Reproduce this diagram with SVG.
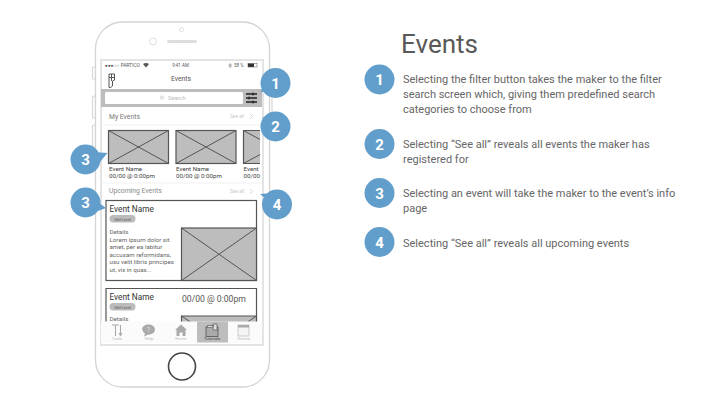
<svg xmlns="http://www.w3.org/2000/svg" width="720" height="405" viewBox="0 0 720 405">
<style>
text{font-family:Roboto,"Liberation Sans",sans-serif}
.b{fill:#629ecb}
.n{fill:#fff;font-weight:700;text-anchor:middle}
.d{fill:#666;font-size:11px}
.ph{fill:#bdbdbd;stroke:#555;stroke-width:1.2}
.x{stroke:#555;stroke-width:1;fill:none}
.e{fill:#444;font-size:6.2px}
.g{fill:#aaa}
.t{fill:#bbb;font-size:4.2px;text-anchor:middle}
.o{fill:none;stroke:#d8d8d8;stroke-width:1.2}
.c{fill:#fff;stroke:#555;stroke-width:1.2}
</style>
<rect width="720" height="405" fill="#fff"/>
<g id="phone">
<rect class="o" x="92.500" y="67" width="3" height="12" rx="1"/>
<rect class="o" x="92.500" y="96" width="3" height="22" rx="1"/>
<rect class="o" x="92.500" y="125" width="3" height="22" rx="1"/>
<rect class="o" x="269" y="96" width="3" height="22" rx="1"/>
<rect x="95.500" y="22" width="174" height="365" rx="27" fill="#fff" stroke="#d4d4d4" stroke-width="1.300"/>
<circle cx="181.500" cy="29.500" r="2" fill="#fff" stroke="#ddd"/>
<circle cx="153" cy="41.500" r="3.500" fill="#fff" stroke="#ddd"/>
<rect x="167" y="40" width="30" height="3" rx="1.500" fill="#ddd"/>
<circle cx="182" cy="366.500" r="13.500" fill="#fff" stroke="#444" stroke-width="1.600"/>
<rect x="101" y="60" width="162" height="285" fill="#fff" stroke="#e4e4e4" stroke-width="2"/>
</g>
<g id="status-bar">
<text x="105" y="67" font-size="4.800" fill="#555">●●●○○ PARTICO</text>
<text x="180.500" y="67" font-size="4.500" fill="#555" text-anchor="middle">9:41 AM</text>
<text x="234" y="67" font-size="4.500" fill="#555">58 %</text>
<path d="M230 63.500v4l1.500-1-3-2M230 63.500l1.500 1-3 2" fill="none" stroke="#555" stroke-width=".4"/>
<path d="M143 64q3-2 6 0l-3 3.500z" fill="#555"/>
<rect x="248" y="63.500" width="6" height="3.500" fill="#333"/>
<rect x="248" y="63.500" width="9" height="3.500" fill="none" stroke="#555" stroke-width=".5"/>
<path d="M109 74h5.500v6l-2 1v5l-2 1.500h-1.500zM111.500 74v7M109 77.500h5" fill="none" stroke="#555" stroke-width="1"/>
<text x="181" y="81" font-size="6.800" fill="#555" text-anchor="middle">Events</text>
</g>
<g id="search">
<rect x="101" y="89" width="161" height="18" fill="#bdbdbd"/>
<rect x="105" y="92" width="138" height="12" rx="1.500" fill="#fff"/>
<circle cx="162" cy="97.500" r="1.500" fill="none" stroke="#bbb" stroke-width=".7"/>
<text x="168" y="100" font-size="5.800" fill="#bbb">Search</text>
<path d="M246 94h11M246 98h11M246 102h11" stroke="#222" stroke-width="1.300"/>
<path d="M253 92.500v3M249 96.500v3M253 100.500v3" stroke="#222" stroke-width="1.100"/>
</g>
<g id="my-events">
<text x="109" y="118.500" font-size="6.800" fill="#777">My Events</text>
<text x="230" y="118" font-size="4.800" fill="#ccc">See all</text>
<path d="M250 114l2.500 2.500-2.500 2.500" fill="none" stroke="#ccc" stroke-width=".8"/>
<path d="M101 125h161M101 183h161" stroke="#eee" stroke-width=".8"/>
<rect class="ph" x="108.500" y="130.500" width="60" height="33"/>
<path class="x" d="M108.500 130.500l60 33M168.500 130.500l-60 33"/>
<rect class="ph" x="176" y="130.500" width="60" height="33"/>
<path class="x" d="M176 130.500l60 33M236 130.500l-60 33"/>
<path class="ph" d="M260 130.500h-16.500v33H260"/>
<path class="x" d="M243.500 130.500l16.500 9M243.500 163.500l16.500-9"/>
<text class="e" x="109" y="171">Event Name</text>
<text class="e" x="109" y="178">00/00 @ 0:00pm</text>
<text class="e" x="176" y="171">Event Name</text>
<text class="e" x="176" y="178">00/00 @ 0:00pm</text>
<text class="e" x="243.500" y="171">Event</text>
<text class="e" x="243.500" y="178">00/00</text>
</g>
<g id="upcoming">
<text x="109" y="193" font-size="6.800" fill="#888">Upcoming Events</text>
<text x="230" y="192.500" font-size="4.800" fill="#ccc">See all</text>
<path d="M250 189l2.500 2.500-2.500 2.500" fill="none" stroke="#ccc" stroke-width=".8"/>
<rect class="c" x="106" y="200.500" width="150.500" height="80"/>
<text x="109.500" y="212" font-size="8.300" fill="#333">Event Name</text>
<rect x="109.500" y="215" width="26" height="7.500" rx="3.700" fill="#bbb"/>
<text x="122.500" y="220.500" font-size="3.800" fill="#555" text-anchor="middle">Skill Level</text>
<g font-size="6.200" fill="#666">
<text x="109.500" y="234">Details</text>
<text x="109.500" y="241.500">Lorem ipsum dolor sit</text>
<text x="109.500" y="249">amet, per ea labitur</text>
<text x="109.500" y="256.500">accusam reformidans,</text>
<text x="109.500" y="264">usu velit libris principes</text>
<text x="109.500" y="271.500">ut, vix in quas...</text>
</g>
<rect class="ph" x="181.500" y="228" width="75" height="52.500"/>
<path class="x" d="M181.500 228l75 52.500M256.500 228l-75 52.500"/>
<path class="c" d="M106 322v-33.500h150.500V322"/>
<text x="109.500" y="299.500" font-size="8.300" fill="#333">Event Name</text>
<text x="182" y="302" font-size="8.600" fill="#555">00/00 @ 0:00pm</text>
<rect x="109.500" y="303" width="26" height="7.500" rx="3.700" fill="#bbb"/>
<text x="122.500" y="308.500" font-size="3.800" fill="#555" text-anchor="middle">Skill Level</text>
<text x="109.500" y="321" font-size="6.200" fill="#666">Details</text>
<path class="ph" d="M181.500 322v-6h75v6"/>
<path class="x" d="M181.500 316l9 6M256.500 316l-9 6"/>
</g>
<g id="tab-bar">
<rect x="101" y="321.500" width="161" height="21.500" fill="#fbfbfb"/>
<rect x="197" y="321.500" width="31" height="21" fill="#bdbdbd"/>
<path d="M112 325h7M115.500 325v11M120.500 325v9.500M119 333l1.500 2.500 1.500-2.500" stroke="#aaa" stroke-width="1.100" fill="none"/>
<path class="g" d="M142 329.500c0-3 3-5 6.500-5s6.500 2 6.500 5-3 5-6.500 5l-4.500 2 1-3c-1.500-1-2.500-2.500-2.500-4z"/>
<text x="148.500" y="332" font-size="7" fill="#ddd" text-anchor="middle">?</text>
<path class="g" d="M175 330l6-5.500 6 5.500h-1.500v6h-3v-3.500h-3v3.500h-3v-6z"/>
<rect x="206" y="327" width="12" height="9.500" fill="#aaa" stroke="#444" stroke-width=".7"/>
<path d="M207.500 327v-1.500h6v1.500M213 324h4v6h-4z" fill="#ddd" stroke="#444" stroke-width=".6"/>
<rect x="238" y="325" width="11" height="11" fill="#f4f4f4" stroke="#bbb" stroke-width=".7"/>
<rect x="238" y="325" width="11" height="2.500" fill="#aaa"/>
<text class="t" x="117" y="340">Tools</text>
<text class="t" x="149" y="340">Help</text>
<text class="t" x="181" y="340">Home</text>
<text x="212" y="340" font-size="4.200" text-anchor="middle" fill="#444">Tutorials</text>
<text class="t" x="244" y="340">Events</text>
</g>
<g id="connectors">
<path class="b" d="M260.500 92.500l6-16 11 10z"/>
<path class="b" d="M262 117.500l15 0-5 12z"/>
<path class="b" d="M107.500 153l-14-1 4 13z"/>
<path class="b" d="M106 208l-14-10-5 17z"/>
<path class="b" d="M260 194l14-1 0 13z"/>
</g>
<g id="callout-1"><circle class="b" cx="275.500" cy="83" r="15"/><text class="n" x="275.500" y="88.500" font-size="15">1</text></g>
<g id="callout-2"><circle class="b" cx="275.500" cy="126.500" r="15"/><text class="n" x="275.500" y="132" font-size="15">2</text></g>
<g id="callout-3a"><circle class="b" cx="85.500" cy="159.500" r="15"/><text class="n" x="85.500" y="165" font-size="15">3</text></g>
<g id="callout-3b"><circle class="b" cx="85.500" cy="202.500" r="15"/><text class="n" x="85.500" y="208" font-size="15">3</text></g>
<g id="callout-4"><circle class="b" cx="277" cy="204.500" r="15"/><text class="n" x="277" y="210" font-size="15">4</text></g>
<g id="title"><text x="401" y="53" font-size="26" fill="#595959">Events</text></g>
<g id="item-1"><circle class="b" cx="379.500" cy="79.500" r="15"/><text class="n" x="379.500" y="85" font-size="15">1</text>
<text class="d" x="403" y="83">Selecting the filter button takes the maker to the filter</text>
<text class="d" x="403" y="98">search screen which, giving them predefined search</text>
<text class="d" x="403" y="113">categories to choose from</text></g>
<g id="item-2"><circle class="b" cx="379.500" cy="144" r="15"/><text class="n" x="379.500" y="149.500" font-size="15">2</text>
<text class="d" x="403" y="148">Selecting “See all” reveals all events the maker has</text>
<text class="d" x="403" y="163">registered for</text></g>
<g id="item-3"><circle class="b" cx="379.500" cy="193" r="15"/><text class="n" x="379.500" y="198.500" font-size="15">3</text>
<text class="d" x="403" y="197">Selecting an event will take the maker to the event’s info</text>
<text class="d" x="403" y="212">page</text></g>
<g id="item-4"><circle class="b" cx="379.500" cy="242" r="15"/><text class="n" x="379.500" y="247.500" font-size="15">4</text>
<text class="d" x="403" y="247">Selecting “See all” reveals all upcoming events</text></g>
</svg>
